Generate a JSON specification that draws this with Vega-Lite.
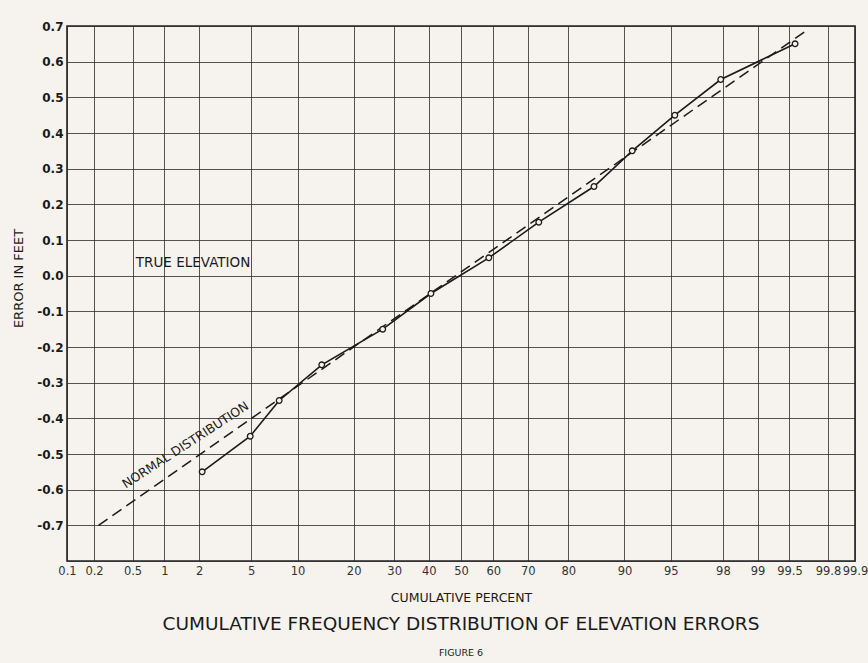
{
  "$schema": "https://vega.github.io/schema/vega-lite/v6.json",
  "width": 788,
  "height": 535,
  "autosize": "none",
  "padding": {"left": 67, "top": 26, "right": 13, "bottom": 102},
  "background": "#f6f3ee",
  "config": {
    "view": {"stroke": "#222222", "strokeWidth": 1.6},
    "font": "DejaVu Sans"
  },
  "title": {
    "text": "CUMULATIVE FREQUENCY DISTRIBUTION OF ELEVATION ERRORS",
    "subtitle": "FIGURE 6",
    "orient": "bottom",
    "anchor": "middle",
    "font": "DejaVu Sans",
    "fontSize": 18.5,
    "fontWeight": "normal",
    "color": "#1a1a1a",
    "subtitleFont": "DejaVu Sans",
    "subtitleFontSize": 9.5,
    "subtitleColor": "#1a1a1a",
    "offset": 11,
    "subtitlePadding": 14
  },
  "datasets": {
    "observed": [
      {"pct": 2.1, "z": -2.03, "error": -0.55},
      {"pct": 4.9, "z": -1.653, "error": -0.45},
      {"pct": 7.7, "z": -1.426, "error": -0.35},
      {"pct": 13.7, "z": -1.092, "error": -0.25},
      {"pct": 27.0, "z": -0.614, "error": -0.15},
      {"pct": 40.7, "z": -0.236, "error": -0.05},
      {"pct": 58.6, "z": 0.218, "error": 0.05},
      {"pct": 72.9, "z": 0.61, "error": 0.15},
      {"pct": 85.2, "z": 1.043, "error": 0.25},
      {"pct": 91.0, "z": 1.343, "error": 0.35},
      {"pct": 95.3, "z": 1.677, "error": 0.45},
      {"pct": 97.9, "z": 2.037, "error": 0.55},
      {"pct": 99.56, "z": 2.62, "error": 0.65}
    ],
    "normal": [
      {"pct": 0.22, "z": -2.843, "error": -0.70},
      {"pct": 99.65, "z": 2.70, "error": 0.685}
    ],
    "labels": [
      {"text": "TRUE ELEVATION", "z": -2.55, "error": 0.035, "kind": "flat"},
      {"text": "NORMAL DISTRIBUTION", "z": -2.16, "error": -0.475, "kind": "slant"}
    ]
  },
  "encoding": {
    "x": {
      "field": "z",
      "type": "quantitative",
      "scale": {"domain": [-3.09, 3.09], "nice": false, "zero": false},
      "axis": {
        "values": [-3.09, -2.878, -2.576, -2.326, -2.054, -1.645, -1.282, -0.842, -0.524, -0.253, 0, 0.253, 0.524, 0.842, 1.282, 1.645, 2.054, 2.326, 2.576, 2.878, 3.09],
        "labelExpr": "datum.value < -3 ? '0.1' : datum.value < -2.7 ? '0.2' : datum.value < -2.4 ? '0.5' : datum.value < -2.2 ? '1' : datum.value < -1.9 ? '2' : datum.value < -1.5 ? '5' : datum.value < -1 ? '10' : datum.value < -0.7 ? '20' : datum.value < -0.4 ? '30' : datum.value < -0.1 ? '40' : datum.value < 0.1 ? '50' : datum.value < 0.4 ? '60' : datum.value < 0.7 ? '70' : datum.value < 1 ? '80' : datum.value < 1.5 ? '90' : datum.value < 1.9 ? '95' : datum.value < 2.2 ? '98' : datum.value < 2.4 ? '99' : datum.value < 2.7 ? '99.5' : datum.value < 3 ? '99.8' : '99.9'",
        "grid": true,
        "gridColor": "#2a2a2a",
        "gridOpacity": 0.8,
        "gridWidth": 1,
        "ticks": false,
        "domain": false,
        "labelOverlap": false,
        "labelBound": false,
        "labelFlush": false,
        "labelFont": "DejaVu Sans",
        "labelFontSize": 11.5,
        "labelColor": "#333333",
        "labelPadding": 4,
        "title": "CUMULATIVE PERCENT",
        "titleFont": "DejaVu Sans",
        "titleFontSize": 12.5,
        "titleFontWeight": "normal",
        "titleColor": "#1a1a1a",
        "titlePadding": 15
      }
    },
    "y": {
      "field": "error",
      "type": "quantitative",
      "scale": {"domain": [-0.8, 0.7], "nice": false, "zero": false},
      "axis": {
        "values": [-0.8, -0.7, -0.6, -0.5, -0.4, -0.3, -0.2, -0.1, 0, 0.1, 0.2, 0.3, 0.4, 0.5, 0.6, 0.7],
        "labelExpr": "datum.value < -0.75 ? '' : replace(format(datum.value, '.1f'), '−', '-')",
        "grid": true,
        "gridColor": "#2a2a2a",
        "gridOpacity": 0.8,
        "gridWidth": 1,
        "ticks": false,
        "domain": false,
        "labelOverlap": false,
        "labelBound": false,
        "labelFont": "DejaVu Sans",
        "labelFontSize": 12,
        "labelFontWeight": "bold",
        "labelColor": "#1a1a1a",
        "labelPadding": 4,
        "title": "ERROR IN FEET",
        "titleFont": "DejaVu Sans",
        "titleFontSize": 13,
        "titleFontWeight": "normal",
        "titleColor": "#1a1a1a",
        "titleX": -49,
        "titleY": 252,
        "titleBaseline": "middle",
        "titleAlign": "center",
        "titleAngle": -90
      }
    }
  },
  "layer": [
    {
      "data": {"name": "normal"},
      "mark": {"type": "line", "color": "#1a1a1a", "strokeWidth": 1.5, "strokeDash": [11, 6]}
    },
    {
      "data": {"name": "observed"},
      "mark": {"type": "line", "color": "#1a1a1a", "strokeWidth": 1.6}
    },
    {
      "data": {"name": "observed"},
      "mark": {"type": "point", "shape": "circle", "size": 32, "filled": true, "fill": "#f6f3ee", "stroke": "#1a1a1a", "strokeWidth": 1.3, "opacity": 1}
    },
    {
      "data": {"name": "labels"},
      "transform": [{"filter": "datum.kind == 'flat'"}],
      "mark": {"type": "text", "align": "left", "baseline": "middle", "fontSize": 13.5, "font": "DejaVu Sans", "color": "#1a1a1a"},
      "encoding": {"text": {"field": "text"}}
    },
    {
      "data": {"name": "labels"},
      "transform": [{"filter": "datum.kind == 'slant'"}],
      "mark": {"type": "text", "align": "center", "baseline": "middle", "fontSize": 12.5, "font": "DejaVu Sans", "color": "#1a1a1a", "angle": -33},
      "encoding": {"text": {"field": "text"}}
    }
  ]
}
